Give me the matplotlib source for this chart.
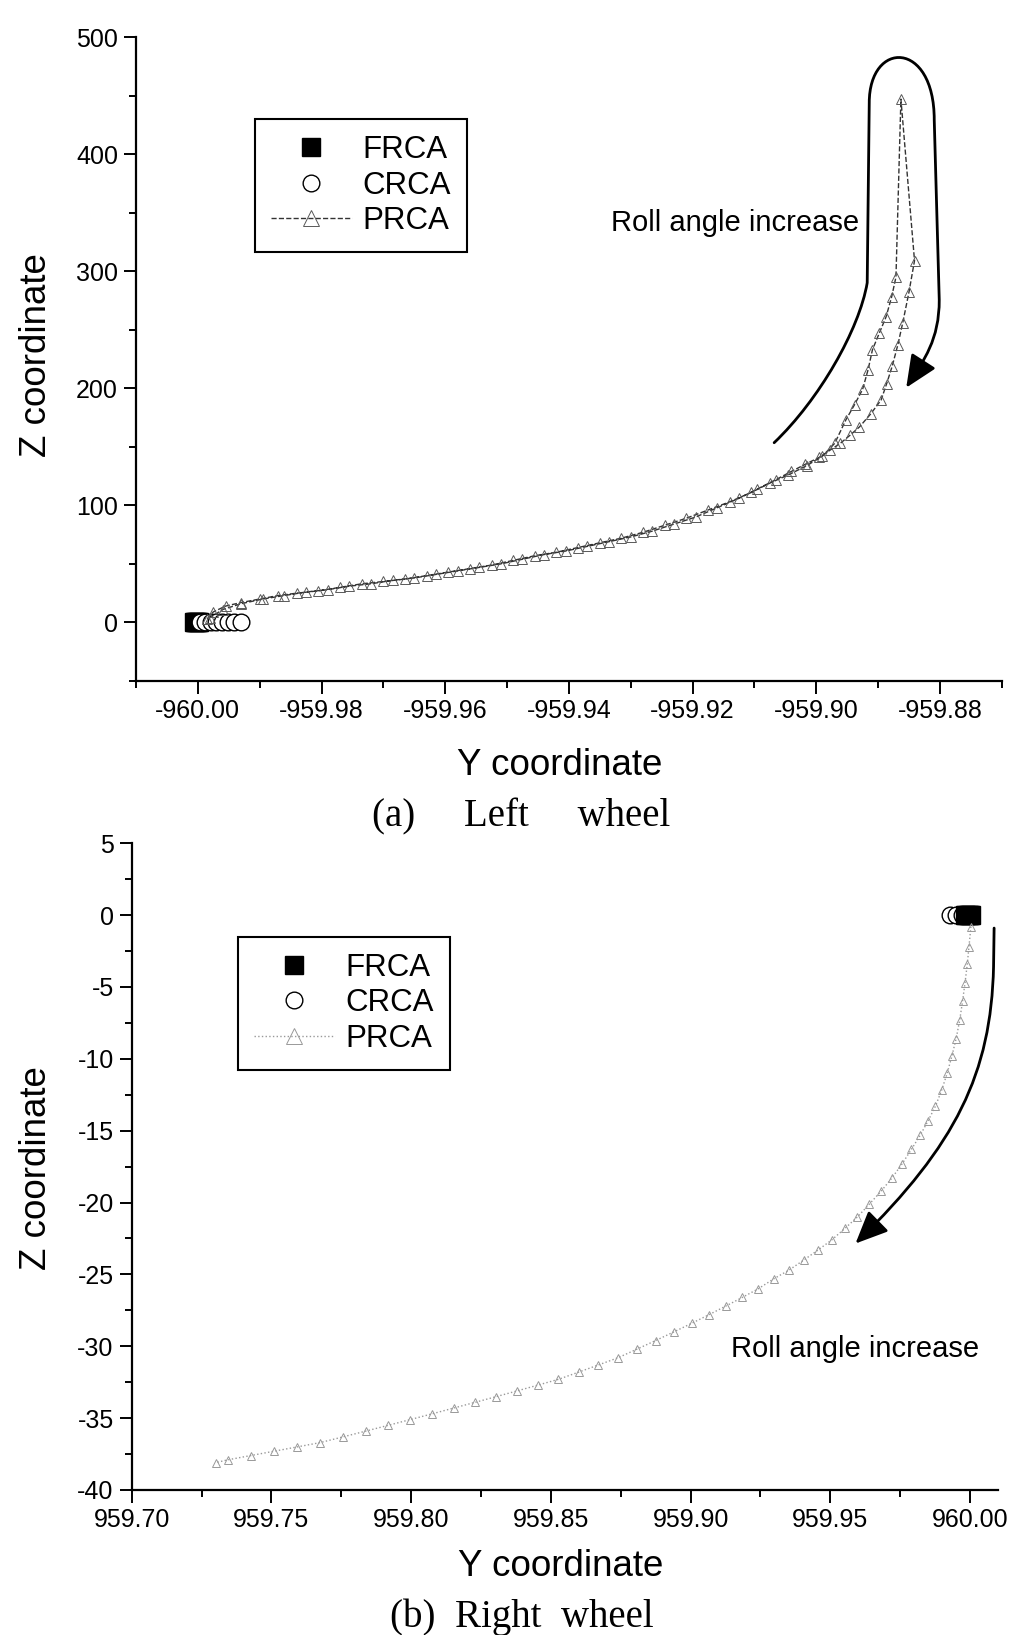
import matplotlib.pyplot as plt
from matplotlib.path import Path
from matplotlib.patches import FancyArrowPatch
from matplotlib.ticker import MultipleLocator, FormatStrFormatter

plt.rcParams['font.family'] = ['Liberation Sans', 'DejaVu Sans']
plt.rcParams['axes.unicode_minus'] = False

# (a) left wheel
left_frca_y = [-960.0006, -960.0004, -960.0003, -960.0001, -960.0000, -959.9998]
left_frca_z = [0, 0, 0, 0, 0, 0]
left_crca_y = [-959.9997, -959.9988, -959.9979, -959.9970, -959.9961, -959.9951, -959.9941, -959.9931]
left_crca_z = [0, 0, 0, 0, 0, 0, 0, 0]
# roll angle going up, then back down
left_prca_y = [-959.9985, -959.9975, -959.9955, -959.9930, -959.9900, -959.9870, -959.9840, -959.9805,
               -959.9770, -959.9735, -959.9700, -959.9665, -959.9630, -959.9595, -959.9560, -959.9525,
               -959.9490, -959.9455, -959.9420, -959.9385, -959.9350, -959.9315, -959.9280, -959.9245,
               -959.9210, -959.9175, -959.9140, -959.9105, -959.9075, -959.9045, -959.9015, -959.8990,
               -959.8970, -959.8952, -959.8938, -959.8925, -959.8916, -959.8909, -959.8898, -959.8887,
               -959.8878, -959.8871, -959.8863,
               -959.8841, -959.8850, -959.8860, -959.8868, -959.8877, -959.8886, -959.8895, -959.8912,
               -959.8930, -959.8945, -959.8961, -959.8978, -959.8995, -959.9018, -959.9040, -959.9065,
               -959.9095, -959.9125, -959.9160, -959.9195, -959.9230, -959.9265, -959.9300, -959.9335,
               -959.9370, -959.9405, -959.9440, -959.9475, -959.9510, -959.9545, -959.9580, -959.9615,
               -959.9650, -959.9685, -959.9720, -959.9755, -959.9790, -959.9825, -959.9860, -959.9895,
               -959.9930, -959.9960, -959.9980]
left_prca_z = [3, 9, 14, 17, 20, 23, 25, 27,
               30, 33, 35, 37, 40, 43, 46, 49,
               53, 57, 60, 64, 68, 72, 77, 83,
               89, 96, 103, 111, 119, 126, 134, 142,
               153, 173, 186, 199, 216, 233, 247, 261,
               278, 295, 447,
               309, 282, 256, 237, 219, 204, 190, 178,
               167, 160, 153, 147, 141, 135, 129, 122,
               114, 106, 98, 90, 84, 78, 73, 69,
               65, 61, 58, 54, 50, 47, 44, 41,
               38, 36, 33, 31, 28, 26, 23, 20,
               16, 11, 4]

# (b) right wheel
right_frca_y = [959.9982, 959.9987, 959.9991, 959.9995, 959.9999, 960.0002]
right_frca_z = [0, 0, 0, 0, 0, 0]
right_crca_y = [959.9929, 959.9950, 959.9970, 959.9990]
right_crca_z = [0, 0, 0, 0]
right_prca_y = [960.0003, 959.9996, 959.9990, 959.9982, 959.9973, 959.9963, 959.9950, 959.9935,
                959.9918, 959.9898, 959.9876, 959.9850, 959.9822, 959.9790, 959.9757, 959.9720,
                959.9682, 959.9640, 959.9597, 959.9552, 959.9505, 959.9456, 959.9405, 959.9352,
                959.9298, 959.9242, 959.9185, 959.9126, 959.9066, 959.9004, 959.8940, 959.8875,
                959.8808, 959.8740, 959.8670, 959.8599, 959.8527, 959.8454, 959.8380, 959.8305,
                959.8229, 959.8152, 959.8075, 959.7997, 959.7918, 959.7838, 959.7757, 959.7675,
                959.7593, 959.7510, 959.7427, 959.7344, 959.7300]
right_prca_z = [-0.8, -2.2, -3.4, -4.7, -6.0, -7.3, -8.6, -9.8,
                -11.0, -12.2, -13.3, -14.3, -15.3, -16.3, -17.3, -18.3,
                -19.2, -20.1, -21.0, -21.8, -22.6, -23.3, -24.0, -24.7,
                -25.3, -26.0, -26.6, -27.2, -27.8, -28.4, -29.0, -29.6,
                -30.2, -30.8, -31.3, -31.8, -32.3, -32.7, -33.1, -33.5,
                -33.9, -34.3, -34.7, -35.1, -35.5, -35.9, -36.3, -36.7,
                -37.0, -37.3, -37.6, -37.9, -38.1]

# guide arrows (data coords)
arrow_a = [(-959.90680, 153.5), (-959.89952, 190.2), (-959.89304, 250.0), (-959.89175, 290.1),
           (-959.89142, 443.8), (-959.89142, 497.6), (-959.88091, 497.6), (-959.88091, 429.3),
           (-959.88010, 275.6), (-959.88010, 241.4), (-959.88253, 224.4), (-959.88544, 200.5)]
arrow_a_codes = [Path.MOVETO, Path.CURVE4, Path.CURVE4, Path.CURVE4,
                 Path.LINETO, Path.CURVE4, Path.CURVE4, Path.CURVE4,
                 Path.LINETO, Path.CURVE4, Path.CURVE4, Path.CURVE4]
arrow_b = [(960.0086, -0.9), (960.0084, -3.6), (960.0075, -11.0), (959.9950, -16.0), (959.9590, -22.85)]
arrow_b_codes = [Path.MOVETO, Path.LINETO, Path.CURVE4, Path.CURVE4, Path.CURVE4]


def style(ax):
    for s in ['top', 'right']:
        ax.spines[s].set_visible(False)
    for s in ['left', 'bottom']:
        ax.spines[s].set_linewidth(1.6)
    ax.tick_params(which='major', length=9, width=1.4, labelsize=18, pad=4)
    ax.tick_params(which='minor', length=5, width=1.4)


fig = plt.figure(figsize=(10.14, 16.35), dpi=100)
ax1 = fig.add_axes([0.13412, 0.58349, 0.85375, 0.39388])
ax2 = fig.add_axes([0.12988, 0.08869, 0.85464, 0.39554])

leg_kw = dict(bbox_transform=fig.transFigure, loc='upper left', fontsize=22.5, frameon=True,
              fancybox=False, edgecolor='black', framealpha=1, handlelength=2.6,
              handletextpad=0.35, labelspacing=0.18, borderpad=0.5, borderaxespad=0, numpoints=1)

# ---- (a)
ax1.plot(left_frca_y, left_frca_z, 's', color='black', markersize=13, label='FRCA')
ax1.plot(left_crca_y, left_crca_z, 'o', mfc='white', mec='black', mew=1.0, markersize=12, label='CRCA')
ax1.plot(left_prca_y, left_prca_z, '--^', color='0.2', lw=1.0, mfc='none', mec='0.35', mew=0.7,
         markersize=6.5, label='PRCA')
ax1.set_xlim(-960.01, -959.87)
ax1.set_ylim(-50, 500)
ax1.xaxis.set_major_locator(MultipleLocator(0.02))
ax1.xaxis.set_minor_locator(MultipleLocator(0.01))
ax1.xaxis.set_major_formatter(FormatStrFormatter('%.2f'))
ax1.yaxis.set_major_locator(MultipleLocator(100))
ax1.yaxis.set_minor_locator(MultipleLocator(50))
style(ax1)
leg1 = ax1.legend(bbox_to_anchor=(0.2515, 0.927), **leg_kw)
leg1.get_frame().set_linewidth(1.5)
leg1.legend_handles[2].set_markersize(11)
ax1.add_patch(FancyArrowPatch(path=Path(arrow_a, arrow_a_codes),
                              arrowstyle='-|>,head_length=0.9,head_width=0.4',
                              mutation_scale=22, lw=2, color='black', clip_on=False))
fig.text(0.7253, 0.8635, 'Roll angle increase', fontsize=21, ha='center', va='center')

# ---- (b)
ax2.plot(right_crca_y, right_crca_z, 'o', mfc='white', mec='black', mew=1.0, markersize=12, label='CRCA')
ax2.plot(right_frca_y, right_frca_z, 's', color='black', markersize=13, label='FRCA')
ax2.plot(right_prca_y, right_prca_z, ':^', color='0.6', lw=1.0, mfc='none', mec='0.6', mew=0.7,
         markersize=6, label='PRCA')
ax2.set_xlim(959.70, 960.0101)
ax2.set_ylim(-40, 5)
ax2.xaxis.set_major_locator(MultipleLocator(0.05))
ax2.xaxis.set_minor_locator(MultipleLocator(0.025))
ax2.xaxis.set_major_formatter(FormatStrFormatter('%.2f'))
ax2.yaxis.set_major_locator(MultipleLocator(5))
ax2.yaxis.set_minor_locator(MultipleLocator(2.5))
style(ax2)
h, l = ax2.get_legend_handles_labels()
leg2 = ax2.legend([h[1], h[0], h[2]], [l[1], l[0], l[2]], bbox_to_anchor=(0.2347, 0.4269), **leg_kw)
leg2.get_frame().set_linewidth(1.5)
leg2.legend_handles[2].set_markersize(11)
ax2.add_patch(FancyArrowPatch(path=Path(arrow_b, arrow_b_codes),
                              arrowstyle='-|>,head_length=0.9,head_width=0.4',
                              mutation_scale=22, lw=2, color='black', clip_on=False))
fig.text(0.8436, 0.1750, 'Roll angle increase', fontsize=21, ha='center', va='center')

# axis titles and captions
fig.text(0.5523, 0.5321, 'Y coordinate', fontsize=26.5, ha='center', va='center')
fig.text(0.036, 0.7829, 'Z coordinate', fontsize=26.5, ha='center', va='center', rotation=90)
fig.text(0.5525, 0.04165, 'Y coordinate', fontsize=26.5, ha='center', va='center')
fig.text(0.036, 0.2856, 'Z coordinate', fontsize=26.5, ha='center', va='center', rotation=90)
fig.text(0.5144, 0.5004, '(a)     Left     wheel', fontsize=28, ha='center', va='center',
         family=['Liberation Serif', 'DejaVu Serif'])
fig.text(0.5144, 0.011, '(b)  Right  wheel', fontsize=28, ha='center', va='center',
         family=['Liberation Serif', 'DejaVu Serif'])

fig.savefig('out.png', dpi=100)
